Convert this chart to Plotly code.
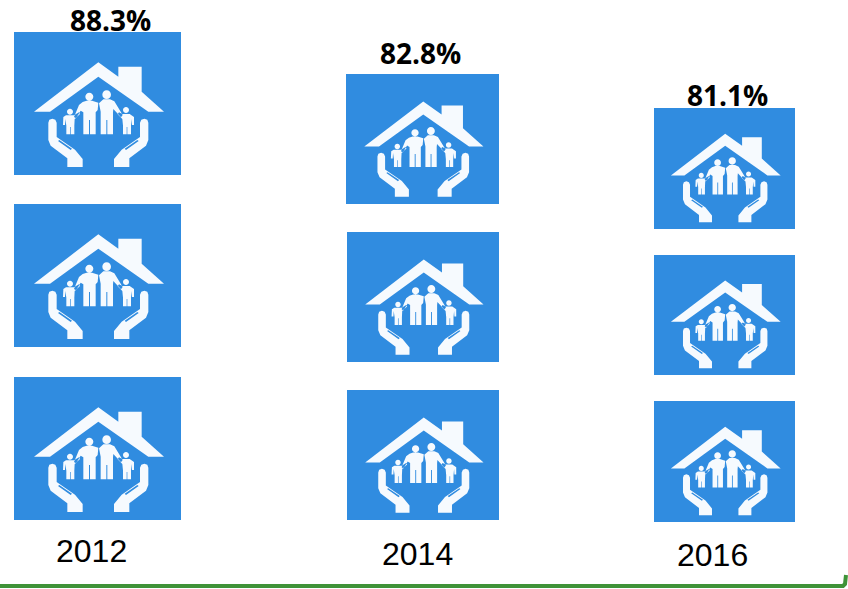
import plotly.graph_objects as go

# ---- data ----
years = ["2012", "2014", "2016"]
percent_values = [88.3, 82.8, 81.1]
value_labels = ["88.3%", "82.8%", "81.1%"]
icons_per_column = 3

# ---- layout (pixels in an 848x589 canvas) ----
W, H = 848, 589
tile_left = [[14, 14, 14], [346, 347, 347], [654, 654, 654]]
tile_right = [[181, 181, 181], [499, 499, 499], [795, 795, 795]]
tile_top = [[32, 204, 377], [74, 232, 390], [108, 255, 401]]
tile_bottom = [[175, 347, 520], [204, 362, 520], [229, 375, 522]]
label_x = [110.5, 420, 727]
label_y = [19.5, 52.5, 94.5]
year_x = [91.5, 417.5, 712.5]
year_y = [550.5, 553.5, 554.5]
BLUE = "#308ce0"
GREEN = "#3f9338"

# Icon outline in a local drawing space; mapped into each tile
roof = [(12,170),(205,22),(265,65),(265,35),(335,35),(335,110),(402,170),(355,170),(205,65),(60,170)]
hand = [(55,203),(58,194),(67,191),(76,194),(80,203),(80,246),(135,284),(158,312),(158,336),(112,336),
        (112,310),(62,272),(55,255)]
slit = [(84,258),(88,255),(126,281),(122,285)]
adult_l = [(170,137),(186,137),(205,143),(203,165),(197,172),(197,238),(180,238),(180,195),(177,195),(177,238),
           (160,238),(160,172),(152,167),(138,190),(132,186),(147,150),(158,141)]
adult_r = [(220,133),(240,133),(253,139),(263,155),(278,180),(273,187),(250,162),(249,172),(249,238),(232,238),
           (232,195),(229,195),(229,238),(212,238),(212,170),(207,145)]
child_l = [(108,181),(132,181),(147,172),(150,177),(134,192),(133,212),(133,238),(122,238),(122,216),(120,216),
           (120,238),(109,238),(109,212),(106,192),(105,210),(99,210),(100,186)]
child_r = [(277,177),(299,177),(312,186),(312,210),(306,210),(305,192),(303,212),(303,238),(292,238),(292,216),
           (290,216),(290,238),(279,238),(279,212),(277,192),(263,178),(267,172)]
heads = [(178,125,12),(230,119,13),(120,170,9),(288,165,9)]


def to_tile(px, py, l, r, t, b):
    # the drawing space was measured on the first tile (167 x 143)
    return l + (16 + px / 3) / 167 * (r - l), t + (23 + py / 3) / 143 * (b - t)


def poly(points, box):
    parts = []
    for i, (a, c) in enumerate(points):
        x, y = to_tile(a, c, *box)
        parts.append(f"{'M' if i == 0 else 'L'}{x:.2f},{y:.2f}")
    return "".join(parts) + "Z"


def circle(cx, cy, rad, box):
    x0, y0 = to_tile(cx, cy, *box)
    x1, _ = to_tile(cx + rad, cy, *box)
    _, y1 = to_tile(cx, cy + rad, *box)
    rx, ry = x1 - x0, y1 - y0
    k = 0.5523
    return (f"M{x0-rx:.2f},{y0:.2f}C{x0-rx:.2f},{y0-k*ry:.2f} {x0-k*rx:.2f},{y0-ry:.2f} {x0:.2f},{y0-ry:.2f}"
            f"C{x0+k*rx:.2f},{y0-ry:.2f} {x0+rx:.2f},{y0-k*ry:.2f} {x0+rx:.2f},{y0:.2f}"
            f"C{x0+rx:.2f},{y0+k*ry:.2f} {x0+k*rx:.2f},{y0+ry:.2f} {x0:.2f},{y0+ry:.2f}"
            f"C{x0-k*rx:.2f},{y0+ry:.2f} {x0-rx:.2f},{y0+k*ry:.2f} {x0-rx:.2f},{y0:.2f}Z")


MIRROR = 410
mirror = lambda pts: [(MIRROR - a, c) for a, c in pts]

fig = go.Figure()
shapes = []

for c, year in enumerate(years):
    centers, widths, bases, heights = [], [], [], []
    for i in range(icons_per_column):
        l, r, t, b = tile_left[c][i], tile_right[c][i], tile_top[c][i], tile_bottom[c][i]
        centers.append((l + r) / 2)
        widths.append(r - l)
        bases.append(t)
        heights.append(b - t)
        box = (l, r, t, b)
        white = "".join(poly(p, box) for p in (roof, hand, mirror(hand), adult_l, adult_r, child_l, child_r))
        white += "".join(circle(x, y, rad, box) for x, y, rad in heads)
        shapes.append(dict(type="path", path=white, fillcolor="#f6fafe", line=dict(width=0), xref="x", yref="y"))
        blue = poly(slit, box) + poly(mirror(slit), box)
        shapes.append(dict(type="path", path=blue, fillcolor=BLUE, line=dict(width=0), xref="x", yref="y"))
    fig.add_trace(go.Bar(x=centers, y=heights, base=bases, width=widths, marker=dict(color=BLUE, line=dict(width=0)),
                         name=year, showlegend=False, hoverinfo="skip"))

annotations = []
for c in range(len(years)):
    annotations.append(dict(x=label_x[c], y=label_y[c], xref="x", yref="y", text=f"<b>{value_labels[c]}</b>",
                            showarrow=False, font=dict(family="Open Sans", size=28, color="#000000")))
    annotations.append(dict(x=year_x[c], y=year_y[c], xref="x", yref="y", text=years[c], showarrow=False,
                            font=dict(family="Liberation Sans", size=32, color="#000000")))

# green bracket at the bottom
fig.add_trace(go.Scatter(x=[0, 843, 845, 846], y=[586, 586, 584, 575], mode="lines",
                         line=dict(color=GREEN, width=4), showlegend=False, hoverinfo="skip"))

fig.update_layout(
    width=W, height=H, margin=dict(l=0, r=0, t=0, b=0), paper_bgcolor="white", plot_bgcolor="white",
    xaxis=dict(range=[0, W], visible=False, fixedrange=True),
    yaxis=dict(range=[H, 0], visible=False, fixedrange=True),
    barmode="overlay", shapes=shapes, annotations=annotations,
)
fig.write_html("out.html", config={"displayModeBar": False},
               post_script="document.body.style.margin='0';document.body.style.overflow='hidden';")
